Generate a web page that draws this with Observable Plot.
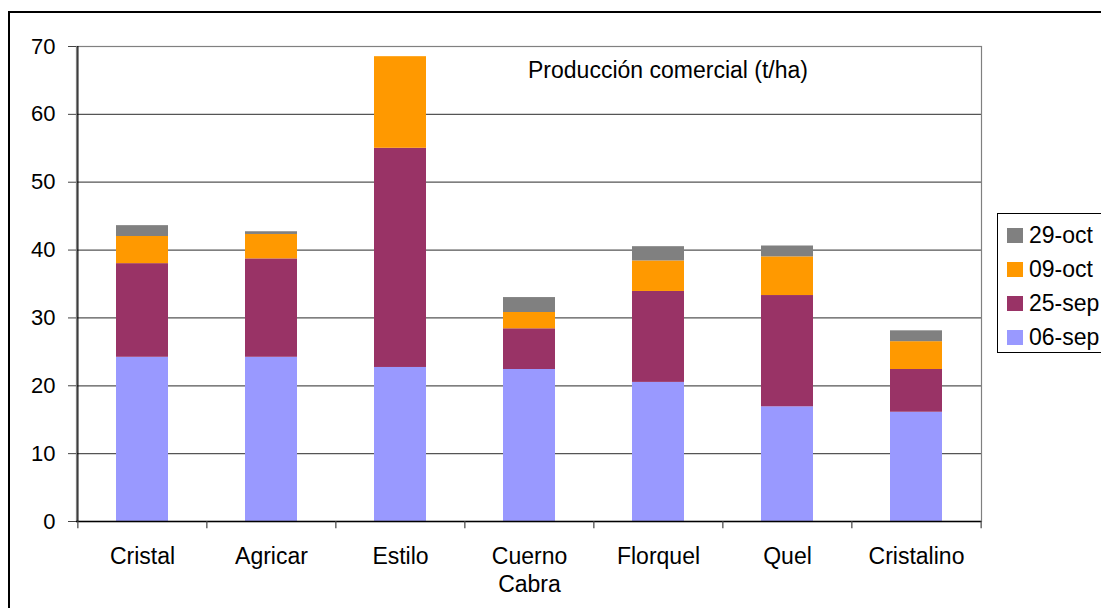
<!DOCTYPE html>
<html>
<head>
<meta charset="utf-8">
<script src="https://cdn.jsdelivr.net/npm/d3@7"></script>
<script src="https://cdn.jsdelivr.net/npm/@observablehq/plot@0.6"></script>
<style>
  html, body { margin: 0; padding: 0; background: #fff; overflow: hidden; }
  body { width: 1101px; height: 608px; position: relative; font-family: "Liberation Sans", Arial, sans-serif; }
  #outer { position: absolute; left: 8px; top: 11px; width: 1200px; height: 700px; border: 2px solid #000; box-sizing: border-box; }
  #chart { position: absolute; left: 0; top: 0; }
  #legend { position: absolute; left: 997px; top: 213px; width: 140px; height: 140px; border: 1px solid #000; box-sizing: border-box; background: #fff; }
  .item { position: absolute; left: 9px; height: 24px; display: flex; align-items: center; font-size: 23px; color: #000; }
  .sw { width: 16px; height: 15px; margin-right: 6px; }
</style>
</head>
<body>
<div id="outer"></div>
<div id="chart"></div>
<div id="legend"></div>
<script>
const categories = ["Cristal", "Agricar", "Estilo", "Cuerno Cabra", "Florquel", "Quel", "Cristalino"];
const seriesNames = ["06-sep", "25-sep", "09-oct", "29-oct"];
const seriesColors = ["#9999FF", "#993366", "#FF9900", "#808080"];
const sep06 = [24.2, 24.2, 22.7, 22.4, 20.5, 16.9, 16.1];
const sep25 = [13.8, 14.5, 32.3, 6.0, 13.4, 16.4, 6.3];
const oct09 = [4.0, 3.6, 13.5, 2.4, 4.5, 5.7, 4.1];
const oct29 = [1.6, 0.4, 0.0, 2.2, 2.1, 1.6, 1.6];
const yTicks = [0, 10, 20, 30, 40, 50, 60, 70];
const title = "Producción comercial (t/ha)";

const seriesValues = [sep06, sep25, oct09, oct29];
const rows = [];
seriesNames.forEach((s, si) => {
  categories.forEach((c, ci) => rows.push({category: c, series: s, value: seriesValues[si][ci]}));
});

const W = 1101, H = 608;
const mL = 76, mR = 120, mT = 46, mB = 87;
const step = (W - mL - mR) / categories.length;
const font = "Liberation Sans, Arial, sans-serif";

const chart = Plot.plot({
  width: W,
  height: H,
  marginLeft: mL,
  marginRight: mR,
  marginTop: mT,
  marginBottom: mB,
  style: {fontFamily: font, fontSize: "22px", color: "#000", background: "transparent", overflow: "visible"},
  x: {domain: categories, paddingInner: 0.6, paddingOuter: 0.3, label: null},
  y: {domain: [0, 70], label: null},
  color: {domain: seriesNames, range: seriesColors},
  marks: [
    Plot.ruleY(yTicks, {stroke: "#555", strokeWidth: 1.2}),
    Plot.barY(rows, {x: "category", y: "value", fill: "series", order: seriesNames}),
    Plot.frame({stroke: "#808080", strokeWidth: 1.2}),
    Plot.ruleX([categories[0]], {dx: -step / 2, stroke: "#000", strokeWidth: 1.2}),
    Plot.ruleY([0], {stroke: "#000", strokeWidth: 1.5}),
    Plot.ruleX(categories, {dx: -step / 2, y1: 0, y2: -1.05, stroke: "#444", strokeWidth: 1.2}),
    Plot.ruleX([categories[categories.length - 1]], {dx: step / 2, y1: 0, y2: -1.05, stroke: "#444", strokeWidth: 1.2}),
    Plot.axisY({ticks: yTicks, tickSize: 8, tickPadding: 13, stroke: "#444", fontSize: 22, tickFormat: d => String(d)}),
    Plot.axisX({tickSize: 0, tickPadding: 23, fontSize: 23, lineHeight: 1.22, tickFormat: d => d.replace(" ", "\n")}),
    Plot.text([title], {frameAnchor: "top", dx: 139, dy: 24, lineAnchor: "middle", fontSize: 23, fill: "#000"})
  ]
});
document.getElementById("chart").appendChild(chart);

const legend = document.getElementById("legend");
const order = [3, 2, 1, 0];
order.forEach((si, k) => {
  const item = document.createElement("div");
  item.className = "item";
  item.style.top = (9 + k * 34) + "px";
  const sw = document.createElement("div");
  sw.className = "sw";
  sw.style.background = seriesColors[si];
  const tx = document.createElement("span");
  tx.textContent = seriesNames[si];
  item.appendChild(sw);
  item.appendChild(tx);
  legend.appendChild(item);
});
</script>
</body>
</html>
